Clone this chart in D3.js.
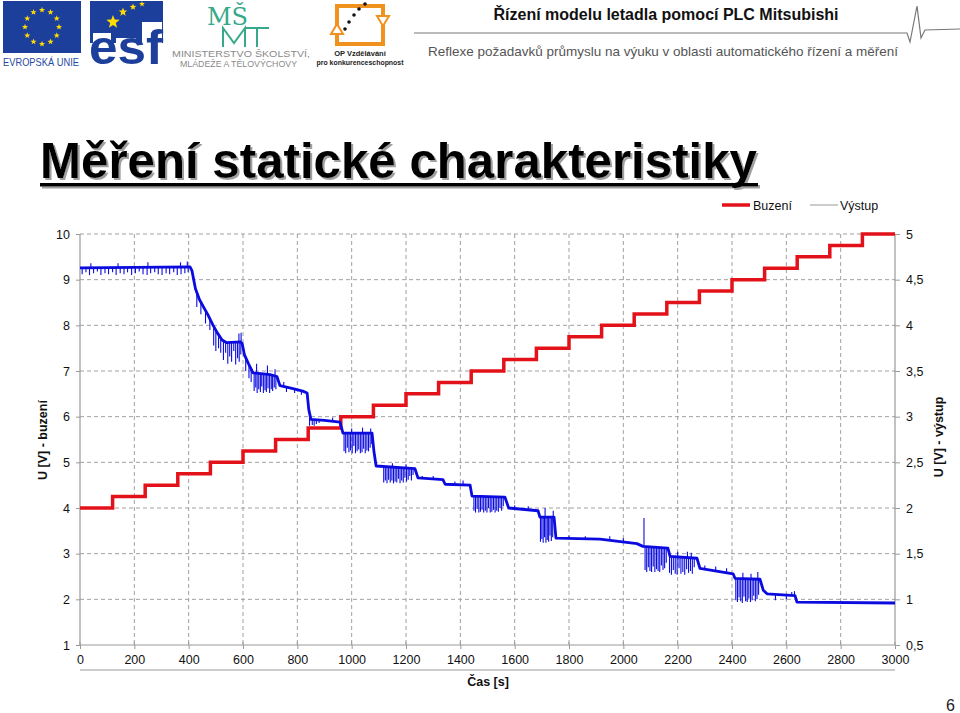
<!DOCTYPE html>
<html><head><meta charset="utf-8">
<script src="https://cdn.jsdelivr.net/npm/d3@7"></script>
<style>
html,body{margin:0;padding:0;background:#fff;}
svg{display:block;font-family:"Liberation Sans",Arial,sans-serif;}
</style></head>
<body>
<svg id="c" width="960" height="713"></svg>
<script>
// ---------- DATA ----------
const xTicks = [0,200,400,600,800,1000,1200,1400,1600,1800,2000,2200,2400,2600,2800,3000];
const yLeftTicks = [1,2,3,4,5,6,7,8,9,10];
const yRightTicks = [0.5,1,1.5,2,2.5,3,3.5,4,4.5,5];
const yRightLabels = ["0,5","1","1,5","2","2,5","3","3,5","4","4,5","5"];

// Buzení (left axis), step every 120 s
const buzeniT = [0,120,240,360,480,600,720,840,960,1080,1200,1320,1440,1560,1680,1800,1920,2040,2160,2280,2400,2520,2640,2760,2880,3000];
const buzeniV = [4,4.25,4.5,4.75,5,5.25,5.5,5.75,6,6.25,6.5,6.75,7,7.25,7.5,7.75,8,8.25,8.5,8.75,9,9.25,9.5,9.75,10,10];

// Výstup (right axis) – main trace
const vystupBase = [
 [0,4.63],[405,4.64],[412,4.60],[425,4.40],[440,4.28],[455,4.20],[470,4.12],[490,4.0],[505,3.92],[523,3.84],
 [540,3.81],[590,3.82],[597,3.80],[605,3.68],[620,3.58],[637,3.48],[700,3.46],[725,3.44],[736,3.34],[780,3.31],
 [820,3.28],[836,3.26],[842,3.08],[850,2.97],[900,2.96],[957,2.94],[968,2.82],[1075,2.82],[1082,2.62],[1090,2.46],
 [1233,2.43],[1244,2.33],[1336,2.31],[1344,2.26],[1436,2.25],[1443,2.13],[1564,2.12],[1578,2.0],[1686,1.97],[1693,1.9],
 [1745,1.9],[1752,1.67],[1914,1.66],[2050,1.61],[2072,1.58],[2164,1.56],[2172,1.47],[2271,1.45],[2282,1.34],[2404,1.28],
 [2411,1.23],[2503,1.22],[2515,1.1],[2529,1.06],[2632,1.04],[2639,0.97],[3000,0.96]
];
// Výstup spikes: [time, from, to]
const vystupSpikes = [
 [8,4.63,4.56],[22,4.63,4.58],[35,4.63,4.55],[50,4.63,4.57],[64,4.63,4.59],[77,4.63,4.55],[92,4.63,4.57],[105,4.63,4.56],
 [120,4.63,4.58],[133,4.63,4.55],[148,4.63,4.57],[162,4.63,4.56],[175,4.63,4.58],[190,4.63,4.55],[204,4.63,4.57],[218,4.63,4.59],
 [232,4.63,4.56],[247,4.63,4.55],[260,4.63,4.57],[275,4.63,4.58],[288,4.63,4.56],[302,4.63,4.55],[317,4.63,4.57],[330,4.64,4.56],
 [345,4.64,4.58],[358,4.64,4.55],[372,4.64,4.56],[386,4.64,4.57],[398,4.64,4.58],
 [40,4.63,4.68],[140,4.63,4.68],[250,4.63,4.69],[370,4.64,4.69],[395,4.64,4.70],
 [430,4.34,4.2],[445,4.25,4.12],[462,4.16,4.02],[478,4.08,3.95],[492,3.99,3.78],[500,3.95,3.72],[510,3.9,3.75],[518,3.86,3.7],
 [528,3.82,3.62],[536,3.81,3.7],[544,3.81,3.58],[551,3.81,3.66],[558,3.81,3.6],[566,3.81,3.72],[573,3.82,3.57],[580,3.81,3.64],
 [586,3.82,3.6],[592,3.82,3.68],[585,3.82,3.91],[593,3.82,3.92],
 [610,3.64,3.5],[622,3.56,3.42],[630,3.52,3.38],
 [641,3.47,3.28],[647,3.47,3.32],[652,3.47,3.26],[658,3.47,3.3],[664,3.47,3.27],[669,3.47,3.33],[675,3.46,3.26],[681,3.46,3.29],
 [686,3.46,3.27],[692,3.46,3.31],[698,3.46,3.26],[704,3.45,3.3],[709,3.45,3.28],[715,3.45,3.32],[721,3.44,3.3],
 [650,3.47,3.58],[690,3.46,3.56],[718,3.45,3.52],
 [750,3.33,3.38],[760,3.32,3.27],[790,3.30,3.26],[815,3.28,3.24],
 [845,3.0,2.9],[855,2.97,2.91],[862,2.97,2.9],[870,2.96,2.92],[880,2.96,2.93],[930,2.95,2.99],
 [972,2.82,2.62],[978,2.82,2.6],[984,2.82,2.66],[990,2.82,2.61],[996,2.82,2.63],[1002,2.82,2.6],[1008,2.82,2.68],[1014,2.82,2.6],
 [1020,2.82,2.62],[1026,2.82,2.64],[1032,2.82,2.6],[1038,2.82,2.61],[1044,2.82,2.65],[1050,2.82,2.6],[1056,2.82,2.63],[1062,2.82,2.62],
 [1068,2.82,2.66],[1074,2.82,2.7],[1000,2.82,2.87],[1040,2.82,2.88],[1070,2.82,2.87],
 [1118,2.44,2.28],[1124,2.44,2.3],[1130,2.44,2.27],[1136,2.44,2.31],[1142,2.44,2.28],[1148,2.44,2.3],[1154,2.44,2.27],[1160,2.44,2.29],
 [1166,2.44,2.28],[1172,2.44,2.32],[1178,2.44,2.27],[1184,2.44,2.3],[1190,2.44,2.28],[1196,2.44,2.33],[1202,2.43,2.29],[1208,2.43,2.31],
 [1214,2.43,2.35],[1220,2.43,2.3],[1226,2.43,2.36],[1150,2.44,2.49],[1200,2.43,2.48],
 [1260,2.32,2.35],[1300,2.31,2.35],[1380,2.26,2.29],[1410,2.25,2.3],
 [1450,2.13,1.97],[1456,2.13,1.95],[1462,2.13,1.99],[1468,2.13,1.95],[1474,2.13,1.96],[1480,2.12,1.98],[1486,2.12,1.95],[1492,2.12,1.97],
 [1498,2.12,1.95],[1504,2.12,2.0],[1510,2.12,1.95],[1516,2.12,1.96],[1522,2.12,1.98],[1528,2.12,1.95],[1534,2.12,1.97],[1540,2.12,1.96],
 [1546,2.12,2.0],[1552,2.12,1.97],[1558,2.12,2.02],
 [1600,1.99,2.03],[1650,1.98,2.02],
 [1695,1.9,1.63],[1700,1.9,1.66],[1705,1.9,1.62],[1710,1.9,1.68],[1715,1.9,1.62],[1720,1.9,1.65],[1725,1.9,1.63],[1730,1.9,1.7],
 [1735,1.9,1.64],[1740,1.9,1.68],[1712,1.9,2.0],[1742,1.9,1.97],
 [1800,1.66,1.7],[1860,1.66,1.69],[1950,1.65,1.69],[2000,1.63,1.67],[2076,1.58,1.89],
 [2080,1.57,1.32],[2086,1.57,1.3],[2092,1.57,1.35],[2098,1.57,1.31],[2104,1.57,1.3],[2110,1.57,1.36],[2116,1.57,1.3],[2122,1.57,1.33],
 [2128,1.57,1.31],[2134,1.57,1.3],[2140,1.57,1.37],[2146,1.56,1.32],[2152,1.56,1.34],[2158,1.56,1.4],
 [2170,1.47,1.29],[2177,1.47,1.27],[2184,1.47,1.32],[2191,1.47,1.28],[2198,1.47,1.27],[2205,1.46,1.34],[2212,1.46,1.28],[2219,1.46,1.3],
 [2226,1.46,1.27],[2233,1.46,1.33],[2240,1.46,1.29],[2247,1.46,1.31],[2254,1.46,1.28],[2261,1.45,1.35],
 [2200,1.47,1.52],[2236,1.46,1.52],[2250,1.46,1.51],
 [2300,1.33,1.37],[2340,1.32,1.36],[2380,1.30,1.34],
 [2414,1.23,0.99],[2420,1.23,0.97],[2426,1.23,1.02],[2432,1.23,0.98],[2438,1.23,0.96],[2444,1.23,1.03],[2450,1.23,0.98],[2456,1.23,0.97],
 [2462,1.23,1.01],[2468,1.22,0.97],[2474,1.22,0.99],[2480,1.22,1.04],[2486,1.22,0.98],[2492,1.22,1.0],[2498,1.22,1.05],
 [2440,1.23,1.29],[2470,1.22,1.28],[2495,1.22,1.3],
 [2560,1.05,0.99],[2600,1.04,1.0],[2620,1.04,1.08],[2630,1.04,1.09]
];

// ---------- SETUP ----------
const svg = d3.select("#c");
const defs = svg.append("defs");
const x = d3.scaleLinear().domain([0,3000]).range([80,895]);
const yL = d3.scaleLinear().domain([1,10]).range([645,234]);
const yR = d3.scaleLinear().domain([0.5,5]).range([645,234]);

// ---------- HEADER ----------
const hdr = svg.append("g");
function star(g, cx, cy, r, fill){
  const pts=[];
  for(let i=0;i<10;i++){const a=-Math.PI/2+i*Math.PI/5;const rr=i%2?r*0.42:r;pts.push([cx+rr*Math.cos(a),cy+rr*Math.sin(a)]);}
  g.append("polygon").attr("points",pts.map(p=>p.join(",")).join(" ")).attr("fill",fill);
}
// EU flag
hdr.append("rect").attr("x",3).attr("y",1).attr("width",78).attr("height",52).attr("fill","#1d3f9c");
for(let i=0;i<12;i++){const a=i*Math.PI/6;star(hdr,42+17*Math.cos(a),27+17*Math.sin(a),3.2,"#ffdd00");}
hdr.append("text").attr("x",3).attr("y",66).attr("font-size",10.5).attr("fill","#1f4aa3")
  .attr("textLength",76).attr("lengthAdjust","spacingAndGlyphs").text("EVROPSKÁ UNIE");
// ESF: blue text, square with the text knocked out
const m = defs.append("mask").attr("id","esfmask");
m.append("rect").attr("x",0).attr("y",0).attr("width",960).attr("height",100).attr("fill","#fff");
m.append("g").attr("fill","#000").append("path").attr("d","M93,33 h18 v30 h-18 z M116,38 h20 v25 h-20 z M142,22 h20 v41 h-20 z");
hdr.append("rect").attr("x",90).attr("y",1).attr("width",73).attr("height",42).attr("fill","#1d3f9c").attr("mask","url(#esfmask)");
hdr.append("text").attr("x",89).attr("y",64).attr("font-size",48).attr("font-weight","bold").attr("fill","#1d3f9c")
  .attr("textLength",74).attr("lengthAdjust","spacingAndGlyphs").text("esf");
star(hdr,113,22,7,"#ffdd00");star(hdr,123,12,4.5,"#ffdd00");star(hdr,133,7,3.5,"#ffdd00");star(hdr,142,4,3,"#ffdd00");
// MSMT
hdr.append("text").attr("x",207).attr("y",25).attr("font-size",24).attr("font-family","DejaVu Serif, serif").attr("fill","#35a98a").text("MŠ");
hdr.append("path").attr("d","M223,47 V28 L234,43 L245,28 V47 M245,28 H269 M257,28 V47")
  .attr("fill","none").attr("stroke","#35a98a").attr("stroke-width",2);
hdr.append("text").attr("x",172).attr("y",57).attr("font-size",9).attr("fill","#8a8a8a")
  .attr("textLength",138).attr("lengthAdjust","spacingAndGlyphs").text("MINISTERSTVO ŠKOLSTVÍ,");
hdr.append("text").attr("x",180).attr("y",67).attr("font-size",8.5).attr("fill","#8a8a8a")
  .attr("textLength",117).attr("lengthAdjust","spacingAndGlyphs").text("MLÁDEŽE A TĚLOVÝCHOVY");
// OP logo
hdr.append("rect").attr("x",337).attr("y",6).attr("width",46).attr("height",38).attr("fill","none").attr("stroke","#f0921e").attr("stroke-width",4);
hdr.append("polygon").attr("points","331,34 343,34 337,24").attr("fill","#fff").attr("stroke","#f0921e").attr("stroke-width",2);
hdr.append("polygon").attr("points","377,16 389,16 383,26").attr("fill","#fff").attr("stroke","#f0921e").attr("stroke-width",2);
[[345,29],[349,22],[354,15],[359,9],[365,4]].forEach(p=>hdr.append("circle").attr("cx",p[0]).attr("cy",p[1]).attr("r",1.8).attr("fill","#111"));
hdr.append("text").attr("x",360).attr("y",56).attr("text-anchor","middle").attr("font-size",7.5).attr("font-weight","bold").attr("fill","#222").text("OP Vzdělávání");
hdr.append("text").attr("x",360).attr("y",65).attr("text-anchor","middle").attr("font-size",7.5).attr("font-weight","bold").attr("fill","#222")
  .attr("textLength",87).attr("lengthAdjust","spacingAndGlyphs").text("pro konkurenceschopnost");
// Header title and line
hdr.append("text").attr("x",666).attr("y",20).attr("text-anchor","middle").attr("font-size",16).attr("font-weight","bold").attr("fill","#111")
  .attr("textLength",345).attr("lengthAdjust","spacingAndGlyphs").text("Řízení modelu letadla pomocí PLC Mitsubishi");
hdr.append("path").attr("d","M414,33 L907,33 L910,42 L917,6 L921,38 L925,30 L960,29").attr("fill","none").attr("stroke","#777").attr("stroke-width",1.2);
hdr.append("text").attr("x",428).attr("y",56).attr("font-size",13).attr("fill","#555")
  .attr("textLength",470).attr("lengthAdjust","spacingAndGlyphs").text("Reflexe požadavků průmyslu na výuku v oblasti automatického řízení a měření");

// Main title with drop shadow filter
const f = defs.append("filter").attr("id","shadow").attr("x","-5%").attr("y","-20%").attr("width","110%").attr("height","140%");
f.append("feDropShadow").attr("dx",2).attr("dy",2).attr("stdDeviation",0.6).attr("flood-color","#888").attr("flood-opacity",0.8);
const tt = svg.append("g").attr("filter","url(#shadow)");
tt.append("text").attr("x",40).attr("y",178).attr("font-size",50).attr("font-weight","bold")
  .attr("font-family","'Liberation Sans Narrow','Arial Narrow','Liberation Sans',sans-serif").attr("fill","#000")
  .attr("textLength",717).attr("lengthAdjust","spacingAndGlyphs").text("Měření statické charakteristiky");
tt.append("rect").attr("x",40).attr("y",183).attr("width",718).attr("height",3.5).attr("fill","#000");

// ---------- GRID ----------
const grid = svg.append("g");
grid.selectAll("line.v").data(xTicks.filter(t=>t>0&&t<3000)).join("line")
  .attr("x1",d=>x(d)).attr("x2",d=>x(d)).attr("y1",yL(10)).attr("y2",yL(1))
  .attr("stroke","#a0a0a0").attr("stroke-dasharray","4,3");
grid.selectAll("line.h").data(yLeftTicks.filter(t=>t>1)).join("line")
  .attr("x1",x(0)).attr("x2",x(3000)).attr("y1",d=>yL(d)).attr("y2",d=>yL(d))
  .attr("stroke","#a0a0a0").attr("stroke-dasharray","4,3");

// ---------- AXES ----------
const axL = svg.append("g").attr("transform",`translate(${x(0)},0)`)
  .call(d3.axisLeft(yL).tickValues(yLeftTicks).tickSize(4).tickPadding(6).tickFormat(d=>d));
const axR = svg.append("g").attr("transform",`translate(${x(3000)},0)`)
  .call(d3.axisRight(yR).tickValues(yRightTicks).tickSize(5).tickPadding(6).tickFormat((d,i)=>yRightLabels[i]));
const axB = svg.append("g").attr("transform",`translate(0,${yL(1)})`)
  .call(d3.axisBottom(x).tickValues(xTicks).tickSize(4).tickPadding(6).tickFormat(d=>d));
svg.append("g").selectAll("line").data(xTicks).join("line")
  .attr("x1",d=>x(d)).attr("x2",d=>x(d)).attr("y1",yL(1)-3).attr("y2",yL(1))
  .attr("stroke","#999");
[axL,axR,axB].forEach(a=>{
  a.select(".domain").attr("stroke","#999").attr("stroke-width",1.2);
  a.selectAll(".tick line").attr("stroke","#999");
  a.selectAll("text").attr("font-size",12.5).attr("fill","#111").attr("font-family","Liberation Sans, Arial, sans-serif");
});
axL.select(".domain").attr("d",`M0,${yL(10)}V${yL(1)}`);
axR.select(".domain").attr("d",`M0,${yL(10)}V${yL(1)}`);
axB.select(".domain").attr("d",`M${x(0)},0H${x(3000)}`);
svg.append("line").attr("x1",x(0)).attr("x2",x(3000)).attr("y1",670).attr("y2",670).attr("stroke","#999").attr("stroke-width",1.2);

// Axis titles
svg.append("text").attr("transform","translate(47,440) rotate(-90)").attr("text-anchor","middle")
  .attr("font-size",12.5).attr("font-weight","bold").attr("fill","#111").text("U [V] - buzení");
svg.append("text").attr("transform","translate(943,437) rotate(-90)").attr("text-anchor","middle")
  .attr("font-size",12.5).attr("font-weight","bold").attr("fill","#111").text("U [V] - výstup");
svg.append("text").attr("x",488).attr("y",686).attr("text-anchor","middle")
  .attr("font-size",12.5).attr("font-weight","bold").attr("fill","#111").text("Čas [s]");

// ---------- SERIES ----------
const redLine = d3.line().x((d,i)=>x(buzeniT[i])).y(d=>yL(d)).curve(d3.curveStepAfter);
svg.append("path").attr("d",redLine(buzeniV)).attr("fill","none").attr("stroke","#e3121a").attr("stroke-width",3.5);

const blue = "#0b0be0";
svg.append("g").selectAll("line").data(vystupSpikes).join("line")
  .attr("x1",d=>x(d[0])).attr("x2",d=>x(d[0])).attr("y1",d=>yR(d[1])).attr("y2",d=>yR(d[2]))
  .attr("stroke",blue).attr("stroke-width",1.1);
const blueLine = d3.line().x(d=>x(d[0])).y(d=>yR(d[1]));
svg.append("path").attr("d",blueLine(vystupBase)).attr("fill","none").attr("stroke",blue).attr("stroke-width",2.8).attr("stroke-linejoin","round");

// ---------- LEGEND ----------
svg.append("line").attr("x1",722).attr("x2",750).attr("y1",205).attr("y2",205).attr("stroke","#e3121a").attr("stroke-width",3.5);
svg.append("text").attr("x",753).attr("y",210).attr("font-size",12.5).attr("fill","#111").text("Buzení");
svg.append("line").attr("x1",810).attr("x2",838).attr("y1",205).attr("y2",205).attr("stroke","#999").attr("stroke-width",1);
svg.append("text").attr("x",840).attr("y",210).attr("font-size",12.5).attr("fill","#111").text("Výstup");

// page number
svg.append("text").attr("x",955).attr("y",711).attr("text-anchor","end").attr("font-size",16).attr("fill","#222").text("6");
</script>
</body></html>
